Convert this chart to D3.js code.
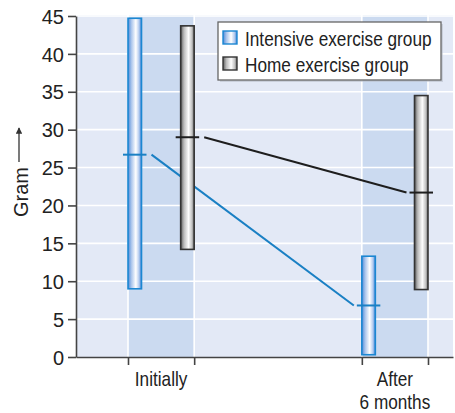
<!DOCTYPE html>
<html>
<head>
<meta charset="utf-8">
<script src="https://cdn.jsdelivr.net/npm/d3@7"></script>
<style>
  html, body { margin: 0; padding: 0; background: #ffffff; }
  svg { display: block; }
  text { font-family: "Liberation Sans", Arial, Helvetica, sans-serif; fill: #222; }
</style>
</head>
<body>
<svg id="chart" width="455" height="413"></svg>
<script>
// Grip strength (gram) per group, at the start and after six months
const categories = ["Initially", "After 6 months"];
const categoryLines = [["Initially"], ["After", "6 months"]];
const groups = ["Intensive exercise group", "Home exercise group"];

const intensiveLow  = [9.0, 0.3];
const intensiveHigh = [44.7, 13.3];
const intensiveMean = [26.7, 6.8];

const homeLow  = [14.2, 8.9];
const homeHigh = [43.7, 34.5];
const homeMean = [29.0, 21.7];

const yTicks = [0, 5, 10, 15, 20, 25, 30, 35, 40, 45];
const yLabel = "Gram";

// ---- layout ----
const plot = { left: 76, right: 453, top: 15, bottom: 357 };
const barW = 13.5;

const svg = d3.select("#chart");

const y = d3.scaleLinear().domain([0, 45]).range([plot.bottom, 16]);
const x = d3.scaleBand().domain(categories).range([128, 428]).paddingInner(0.717);
const bw = x.bandwidth();

const series = [
  { name: groups[0], low: intensiveLow, high: intensiveHigh, mean: intensiveMean,
    fill: "url(#gradBlue)", stroke: "#1b87d2", line: "#1a80c4", offset: 0 },
  { name: groups[1], low: homeLow, high: homeHigh, mean: homeMean,
    fill: "url(#gradGray)", stroke: "#333333", line: "#1e1e1e", offset: bw - barW }
];

// ---- gradients ----
const defs = svg.append("defs");
function grad(id, stops) {
  const g = defs.append("linearGradient").attr("id", id)
    .attr("x1", "0%").attr("x2", "100%").attr("y1", "0%").attr("y2", "0%");
  stops.forEach(([o, c]) => g.append("stop").attr("offset", o).attr("stop-color", c));
}
grad("gradBlue", [[0, "#5089d7"], [0.25, "#aac5ec"], [0.58, "#ffffff"], [0.82, "#b3cbef"], [1, "#4683d4"]]);
grad("gradGray", [[0, "#5e5e5e"], [0.25, "#bcbcbc"], [0.58, "#fdfdfd"], [0.82, "#c6c6c6"], [1, "#707070"]]);

// ---- plot background, bands, grid ----
svg.append("rect")
  .attr("x", plot.left).attr("y", plot.top)
  .attr("width", plot.right - plot.left).attr("height", plot.bottom - plot.top)
  .attr("fill", "#e3e9f6");

svg.append("g").selectAll("rect").data(categories).join("rect")
  .attr("x", d => x(d)).attr("y", plot.top)
  .attr("width", bw).attr("height", plot.bottom - plot.top)
  .attr("fill", "#cbdaf0");

svg.append("g").selectAll("line").data(yTicks.filter(t => t > 0)).join("line")
  .attr("x1", plot.left).attr("x2", plot.right)
  .attr("y1", d => y(d)).attr("y2", d => y(d))
  .attr("stroke", "#ffffff").attr("stroke-width", 1.6);

const edges = categories.flatMap(c => [x(c), x(c) + bw]);
svg.append("g").selectAll("line").data(edges).join("line")
  .attr("x1", d => d).attr("x2", d => d)
  .attr("y1", plot.top).attr("y2", plot.bottom)
  .attr("stroke", "#ffffff").attr("stroke-width", 1.6);

// ---- connecting lines between group means ----
const tickExt = 5;
series.forEach(s => {
  const x0 = x(categories[0]) + s.offset + barW + tickExt + 5;
  const x1 = x(categories[1]) + s.offset - tickExt - 3;
  svg.append("line")
    .attr("x1", x0).attr("y1", y(s.mean[0]))
    .attr("x2", x1).attr("y2", y(s.mean[1]))
    .attr("stroke", s.line).attr("stroke-width", 2);
});

// ---- range bars ----
series.forEach(s => {
  svg.append("g").selectAll("rect").data(categories).join("rect")
    .attr("x", d => x(d) + s.offset)
    .attr("y", (d, i) => y(s.high[i]))
    .attr("width", barW)
    .attr("height", (d, i) => y(s.low[i]) - y(s.high[i]))
    .attr("fill", s.fill)
    .attr("stroke", s.stroke).attr("stroke-width", 1.6);
});

// ---- mean markers ----
series.forEach(s => {
  svg.append("g").selectAll("line").data(categories).join("line")
    .attr("x1", d => x(d) + s.offset - tickExt)
    .attr("x2", d => x(d) + s.offset + barW + tickExt)
    .attr("y1", (d, i) => y(s.mean[i]))
    .attr("y2", (d, i) => y(s.mean[i]))
    .attr("stroke", s.line).attr("stroke-width", 2);
});

// ---- axes ----
const axisColor = "#444";
const yAxis = svg.append("g")
  .attr("transform", `translate(${plot.left},0)`)
  .call(d3.axisLeft(y).tickValues(yTicks).tickSize(8).tickSizeOuter(0).tickPadding(4));
yAxis.attr("font-family", null).attr("font-size", null);
yAxis.select(".domain").attr("stroke", axisColor).attr("stroke-width", 1.6);
yAxis.selectAll(".tick line").attr("stroke", axisColor).attr("stroke-width", 1.6);
yAxis.selectAll(".tick text")
  .attr("font-size", 20)
  .attr("dy", "0.36em")
  .style("fill", "#222");

const xEdges = d3.scaleLinear().domain([plot.left, plot.right]).range([plot.left, plot.right]);
const xAxis = svg.append("g")
  .attr("transform", `translate(0,${plot.bottom})`)
  .call(d3.axisBottom(xEdges).tickValues(edges).tickSize(8).tickSizeOuter(0).tickFormat(""));
xAxis.select(".domain").attr("stroke", axisColor).attr("stroke-width", 1.6);
xAxis.selectAll(".tick line").attr("stroke", axisColor).attr("stroke-width", 1.6);

// category labels (narrow type, condensed horizontally)
categories.forEach((c, i) => {
  categoryLines[i].forEach((ln, j) => {
    svg.append("text")
      .attr("transform", `translate(${x(c) + bw / 2},${386 + j * 23}) scale(0.86,1)`)
      .attr("text-anchor", "middle")
      .attr("font-size", 20)
      .text(ln);
  });
});

// ---- y axis title with arrow ----
const yt = svg.append("g").attr("transform", "translate(28,217) rotate(-90)");
yt.append("text")
  .attr("font-size", 20)
  .text(yLabel);
defs.append("marker").attr("id", "arrowHead")
  .attr("viewBox", "0 0 10 10").attr("refX", 9).attr("refY", 5)
  .attr("markerWidth", 5).attr("markerHeight", 5).attr("orient", "auto")
  .append("path").attr("d", "M0,0 L10,5 L0,10 z").attr("fill", "#333");
yt.append("line")
  .attr("x1", 55).attr("x2", 89).attr("y1", -9).attr("y2", -9)
  .attr("stroke", "#333").attr("stroke-width", 1.3)
  .attr("marker-end", "url(#arrowHead)");

// ---- legend ----
const lg = svg.append("g").attr("transform", "translate(218,22)");
lg.append("rect").attr("x", 2).attr("y", 2).attr("width", 223).attr("height", 58)
  .attr("fill", "#b9bfcc").attr("opacity", 0.6);
lg.append("rect").attr("width", 223).attr("height", 58)
  .attr("fill", "#ffffff").attr("stroke", "#666").attr("stroke-width", 1.3);
series.forEach((s, i) => {
  const row = lg.append("g").attr("transform", `translate(5,${9 + i * 26})`);
  row.append("rect").attr("width", 14).attr("height", 13)
    .attr("fill", s.fill).attr("stroke", s.stroke).attr("stroke-width", 1.4);
  row.append("text")
    .attr("transform", `translate(22,14.5) scale(0.84,1)`)
    .attr("font-size", 20.5)
    .text(s.name);
});
</script>
</body>
</html>
